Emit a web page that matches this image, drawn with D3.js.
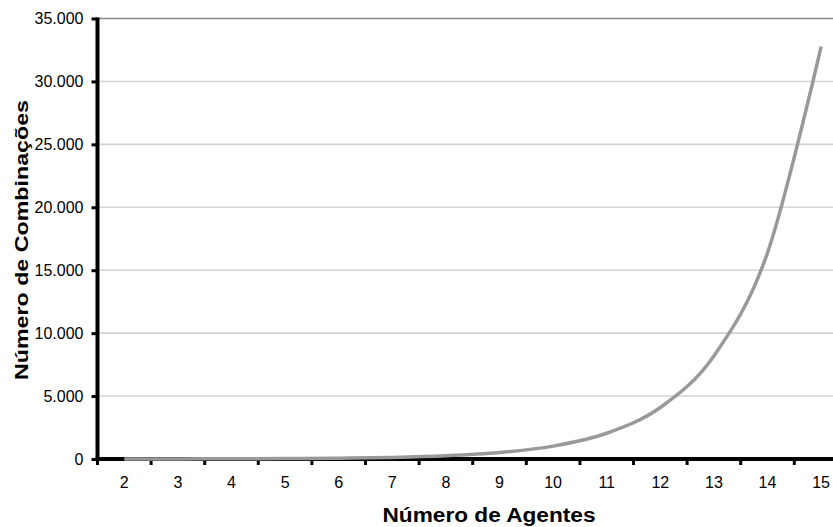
<!DOCTYPE html>
<html>
<head>
<meta charset="utf-8">
<script src="https://cdn.jsdelivr.net/npm/d3@7"></script>
<style>
  html, body { margin: 0; padding: 0; background: #fff; }
  svg { display: block; font-family: "Liberation Sans", Arial, sans-serif; }
</style>
</head>
<body>
<svg id="chart" width="833" height="527"></svg>
<script>
// ---- data ----
const categories = [2, 3, 4, 5, 6, 7, 8, 9, 10, 11, 12, 13, 14, 15];
const combinations = [3, 7, 15, 31, 63, 127, 255, 511, 1023, 2047, 4095, 8191, 16383, 32767];
const yTickValues = [0, 5000, 10000, 15000, 20000, 25000, 30000, 35000];
const xTitle = "Número de Agentes";
const yTitle = "Número de Combinações";

// ---- layout ----
const svg = d3.select("#chart");
const plotLeft = 97.5, band = 53.6, plotTop = 18.5, plotBottom = 459;

const x = d3.scaleBand()
  .domain(categories)
  .range([plotLeft, plotLeft + band * categories.length])
  .paddingInner(0).paddingOuter(0);

const y = d3.scaleLinear().domain([0, 35000]).range([plotBottom, plotTop]);

const fmt = d => d3.format(",")(d).replace(/,/g, ".");

// gridlines
svg.append("g").selectAll("line")
  .data(yTickValues.filter(v => v > 0))
  .join("line")
  .attr("x1", plotLeft).attr("x2", 833)
  .attr("y1", d => y(d)).attr("y2", d => y(d))
  .attr("stroke", d => d === 35000 ? "#8c8c8c" : "#d4d4d4")
  .attr("stroke-width", d => d === 35000 ? 1.3 : 1.6);

// y axis
const yAxis = svg.append("g")
  .attr("transform", `translate(${plotLeft},0)`)
  .call(d3.axisLeft(y).tickValues(yTickValues).tickFormat(fmt).tickSize(6).tickPadding(8));
yAxis.select(".domain").remove();
yAxis.selectAll(".tick line").attr("stroke", "#000").attr("stroke-width", 3);
yAxis.selectAll(".tick text").attr("font-size", 16).attr("fill", "#000")
  .attr("font-family", "'Liberation Sans', Arial, sans-serif");
svg.append("line")
  .attr("x1", plotLeft).attr("x2", plotLeft)
  .attr("y1", plotTop - 1).attr("y2", plotBottom + 2)
  .attr("stroke", "#000").attr("stroke-width", 4);

// x axis labels
const xAxis = svg.append("g")
  .attr("transform", `translate(0,${plotBottom})`)
  .call(d3.axisBottom(x).tickSize(0).tickPadding(18));
xAxis.select(".domain").remove();
xAxis.selectAll(".tick text").attr("font-size", 16).attr("fill", "#000")
  .attr("font-family", "'Liberation Sans', Arial, sans-serif");

// x tick marks between categories
svg.append("g").selectAll("line")
  .data(categories)
  .join("line")
  .attr("x1", d => x(d)).attr("x2", d => x(d))
  .attr("y1", plotBottom).attr("y2", plotBottom + 6)
  .attr("stroke", "#000").attr("stroke-width", 3);

// x axis line
svg.append("line")
  .attr("x1", plotLeft - 2).attr("x2", 833)
  .attr("y1", plotBottom).attr("y2", plotBottom)
  .attr("stroke", "#000").attr("stroke-width", 4);

// data line
const line = d3.line()
  .x((d, i) => x(categories[i]) + x.bandwidth() / 2)
  .y(d => y(d))
  .curve(d3.curveCardinal.tension(0));

svg.append("path")
  .datum(combinations)
  .attr("d", line)
  .attr("fill", "none")
  .attr("stroke", "#999999")
  .attr("stroke-width", 3.5);

// titles
svg.append("text")
  .attr("x", 489).attr("y", 522)
  .attr("text-anchor", "middle")
  .attr("font-size", 20).attr("font-weight", "bold")
  .attr("textLength", 213).attr("lengthAdjust", "spacingAndGlyphs")
  .text(xTitle);

svg.append("text")
  .attr("transform", "translate(28,240) rotate(-90)")
  .attr("text-anchor", "middle")
  .attr("font-size", 19).attr("font-weight", "bold")
  .attr("textLength", 280).attr("lengthAdjust", "spacingAndGlyphs")
  .text(yTitle);
</script>
</body>
</html>
